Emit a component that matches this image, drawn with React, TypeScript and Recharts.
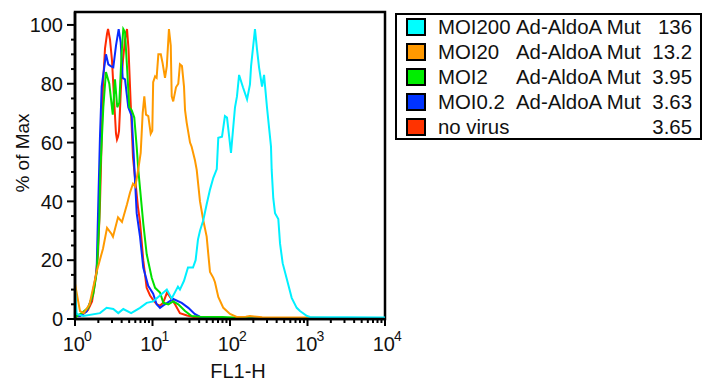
import { LineChart, Line, XAxis, YAxis, ReferenceArea } from 'recharts';

// FL1-H histograms, [FL1-H, % of max]
const moi200: [number, number][] = [
  [1, 10.6], [1.05, 1.7], [1.28, 1], [2.1, 2], [2.56, 3.8], [3.12, 3.4], [3.62, 2], [4.2, 3.4],
  [5.3, 2], [6.9, 3.8], [8.42, 5.5], [10.2, 6], [12.5, 8], [15.3, 10], [17.7, 7], [21.3, 11],
  [22.6, 10], [25.5, 13], [28.7, 17.5], [33.3, 17.5], [36, 20], [38.6, 27], [41, 30], [45.2, 33.6],
  [50, 39], [55.2, 44], [60.9, 48], [67.5, 51], [70.6, 61.6], [78.9, 62], [86, 69], [91.5, 68.5],
  [103, 56.5], [116, 72], [123, 75.7], [131, 83], [147, 78.8], [166, 74.7], [181, 79.8], [187, 86],
  [210, 98.6], [223, 91.8], [237, 85.6], [259, 79], [275, 83], [300, 72], [338, 58.6], [345, 50.7],
  [362, 41], [381, 36], [420, 34], [442, 25.7], [478, 19], [548, 13], [625, 7.2], [726, 3.8],
  [800, 2.7], [986, 1], [1077, 0.7], [10000, 0.5],
];

const moi20: [number, number][] = [
  [1, 12], [1.16, 2.7], [1.3, 2], [1.54, 5], [1.9, 16], [2.3, 24], [2.59, 31], [2.95, 29],
  [3.09, 28], [3.59, 34.6], [4.04, 33], [4.69, 39], [5.13, 43], [5.6, 46], [6.0, 45], [6.56, 51],
  [7.04, 56.5], [7.47, 70], [7.84, 75.7], [8.24, 69.5], [8.83, 69], [9.48, 63], [9.94, 64], [10.2, 80.5],
  [10.8, 82.5], [11.3, 82], [11.9, 90], [12.8, 90], [13.5, 87], [14.5, 82], [15.3, 86], [16.3, 98.6],
  [17.2, 93], [17.7, 75.7], [18.5, 74], [20.1, 78.8], [21.5, 80], [22.6, 86.6], [24, 86], [25.5, 79],
  [26.3, 71], [27.6, 66.8], [30.5, 60], [32, 58.6], [35.3, 54], [37.2, 50.7], [41, 40], [45.2, 33.6],
  [50, 28], [52.5, 22], [55.2, 16], [60.9, 14], [64, 12.5], [70.6, 7.5], [82, 3.8], [100, 1.7],
  [122, 0.7], [160, 0.8], [181, 1], [260, 0.6], [1000, 0.5], [2000, 0.3], [10000, 0.2],
];

const moi2: [number, number][] = [
  [1, 0.5], [1.22, 2], [1.48, 3.8], [1.72, 8.6], [1.91, 16], [2.06, 34], [2.12, 50], [2.32, 72],
  [2.51, 84], [2.77, 80], [3.07, 69.5], [3.28, 81.5], [3.51, 72], [3.73, 73.6], [4.0, 90.7], [4.2, 98.6],
  [4.42, 97.6], [4.73, 84], [5.02, 72], [5.39, 71], [5.82, 68.5], [6.25, 58.6], [6.56, 50.7], [7.6, 32.5],
  [8.42, 22], [9.77, 14], [10.8, 10.6], [12.5, 9], [13.8, 5.5], [16, 5], [18.5, 6], [21.5, 5],
  [26.3, 2.7], [32, 1], [41, 0.8], [80, 0.7], [110, 0.5], [200, 0.2], [10000, 0],
];

const moi02: [number, number][] = [
  [1, 1], [1.16, 1], [1.41, 2.5], [1.64, 7], [1.9, 16], [2.0, 40], [2.1, 62], [2.21, 79],
  [2.51, 90], [2.69, 86.6], [2.89, 86], [3.12, 85.6], [3.38, 93], [3.66, 98.6], [3.89, 94], [4.12, 82],
  [4.42, 81.5], [4.87, 72], [5.39, 69], [5.77, 54], [6.25, 36], [6.9, 28], [7.6, 17.5], [8.8, 11.3],
  [10.2, 8.6], [11.3, 5], [12.5, 3.8], [14.5, 5], [18.5, 6.8], [23.8, 5.5], [29, 3.8], [35, 1.7],
  [43, 0.5], [80, 0.3], [10000, 0],
];

const noVirus: [number, number][] = [
  [1, 2], [1.16, 1], [1.47, 3], [1.66, 6], [1.81, 12], [1.98, 22], [2.1, 39], [2.16, 51],
  [2.3, 80], [2.44, 92], [2.59, 97], [2.67, 98.6], [2.83, 95], [3.0, 88], [3.19, 75], [3.38, 63],
  [3.48, 61], [3.59, 62], [3.7, 64], [3.94, 80], [4.16, 88], [4.42, 95], [4.69, 98.6], [4.9, 92],
  [5.2, 75], [5.6, 55], [5.95, 48], [6.5, 38], [6.9, 33], [7.6, 20], [8.4, 10.6], [9.3, 8],
  [10.5, 6], [11.4, 5], [12.5, 4.5], [13.7, 5.5], [15.4, 9], [16.8, 7.5], [19.5, 5], [22.6, 2],
  [27.9, 1.2], [37.5, 0.4], [64, 0.2], [10000, 0],
];

const sampleNames = ['MOI200', 'MOI20', 'MOI2', 'MOI0.2', 'no virus'];
const constructs = ['Ad-AldoA Mut', 'Ad-AldoA Mut', 'Ad-AldoA Mut', 'Ad-AldoA Mut', ''];
const medians = ['136', '13.2', '3.95', '3.63', '3.65'];
const lineColors = ['#00F0FF', '#FF9A00', '#00E000', '#0A2BFF', '#FF2A00'];
const swatchColors = ['#00FFFF', '#FF9900', '#00EE00', '#0033FF', '#FF3300'];
const histograms = [moi200, moi20, moi2, moi02, noVirus];

const xMajorTicks = [1, 10, 100, 1000, 10000];
const xTicks = [
  ...xMajorTicks,
  ...[1, 10, 100, 1000].flatMap((d) => [2, 3, 4, 5, 6, 7, 8, 9].map((m) => m * d)),
].sort((a, b) => a - b);
const yTicks = Array.from({ length: 21 }, (_, i) => i * 5);

const FONT = "'Liberation Sans', Arial, sans-serif";

function LogTick({ x, y, payload }: any) {
  const v = payload.value as number;
  const exp = Math.round(Math.log10(v));
  const major = xMajorTicks.includes(v);
  return (
    <g>
      <line x1={x} x2={x} y1={y} y2={y + (major ? 7 : 4)} stroke="#000" strokeWidth={2} />
      {major && (
        <>
          <text x={x + 10} y={y + 32} textAnchor="end" fontSize={20} fontFamily={FONT} fill="#111">
            10
          </text>
          <text x={x + 9} y={y + 22} fontSize={14} fontFamily={FONT} fill="#111">
            {exp}
          </text>
        </>
      )}
    </g>
  );
}

function PctTick({ x, y, payload }: any) {
  const v = payload.value as number;
  const major = v % 20 === 0;
  return (
    <g>
      <line x1={x - (major ? 8 : 4)} x2={x} y1={y} y2={y} stroke="#000" strokeWidth={2} />
      {major && (
        <text x={x - 12} y={y} dy="0.36em" textAnchor="end" fontSize={20} fontFamily={FONT} fill="#111">
          {v}
        </text>
      )}
    </g>
  );
}

export default function App() {
  const order = [4, 3, 2, 1, 0];
  return (
    <div style={{ position: 'fixed', left: 0, top: 0, width: 713, height: 387, background: '#fff' }}>
      <LineChart width={713} height={387} margin={{ top: 12, right: 328, bottom: 8, left: 15 }}>
        <XAxis
          dataKey="x"
          type="number"
          scale="log"
          domain={[1, 10000]}
          ticks={xTicks}
          interval={0}
          allowDataOverflow
          height={60}
          tickSize={0}
          tickMargin={0}
          tickLine={false}
          tick={<LogTick />}
          axisLine={{ stroke: '#000', strokeWidth: 2.5 }}
          label={() => (
            <text x={238} y={378} textAnchor="middle" fontSize={20} fontFamily={FONT} fill="#111">
              FL1-H
            </text>
          )}
        />
        <YAxis
          type="number"
          domain={[0, 104.4]}
          ticks={yTicks}
          interval={0}
          allowDataOverflow
          width={60}
          tickSize={0}
          tickMargin={0}
          tickLine={false}
          tick={<PctTick />}
          axisLine={{ stroke: '#000', strokeWidth: 2.5 }}
          label={() => (
            <text
              x={22}
              y={153}
              transform="rotate(-90 22 153)"
              textAnchor="middle"
              dominantBaseline="central"
              fontSize={19}
              fontFamily={FONT}
              fill="#111"
            >
              % of Max
            </text>
          )}
        />
        {order.map((i) => (
          <Line
            key={sampleNames[i]}
            data={histograms[i].map(([x, y]) => ({ x, y }))}
            dataKey="y"
            type="linear"
            stroke={lineColors[i]}
            strokeWidth={2}
            dot={false}
            activeDot={false}
            isAnimationActive={false}
          />
        ))}
        <ReferenceArea x1={1} x2={10000} y1={0} y2={104.4} fill="none" stroke="#000" strokeWidth={2.5} />
      </LineChart>
      <div
        style={{
          position: 'absolute',
          left: 395,
          top: 13,
          width: 307,
          height: 127,
          boxSizing: 'border-box',
          border: '2.5px solid #000',
          fontFamily: FONT,
          fontSize: 20.4,
          color: '#111',
        }}
      >
        {sampleNames.map((name, i) => {
          const cy = 14 + 25 * i - 2;
          return (
            <div key={name}>
              <div
                style={{
                  position: 'absolute',
                  left: 9,
                  top: cy - 9,
                  width: 20,
                  height: 18,
                  boxSizing: 'border-box',
                  border: '2px solid #000',
                  background: swatchColors[i],
                }}
              />
              <div style={{ position: 'absolute', left: 41, top: cy - 12, lineHeight: '24px', whiteSpace: 'nowrap' }}>
                {name}
              </div>
              <div style={{ position: 'absolute', left: 119, top: cy - 12, lineHeight: '24px', whiteSpace: 'nowrap' }}>
                {constructs[i]}
              </div>
              <div style={{ position: 'absolute', right: 8, top: cy - 12, lineHeight: '24px', whiteSpace: 'nowrap' }}>
                {medians[i]}
              </div>
            </div>
          );
        })}
      </div>
    </div>
  );
}
